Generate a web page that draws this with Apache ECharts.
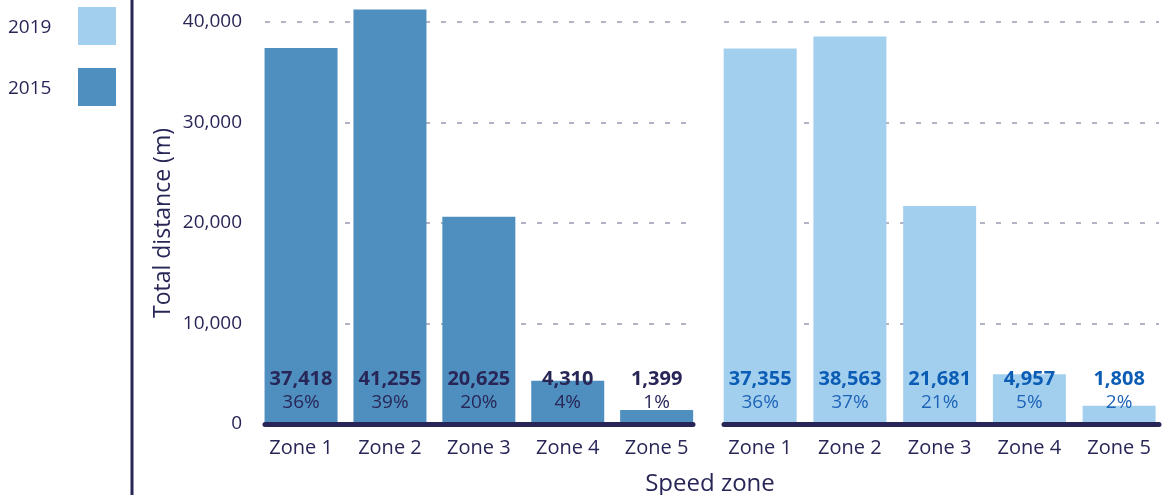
<!DOCTYPE html>
<html>
<head>
<meta charset="utf-8">
<script src="https://cdn.jsdelivr.net/npm/echarts@6/dist/echarts.min.js"></script>
<style>
  html, body { margin: 0; padding: 0; background: #fff; }
  #chart { width: 1164px; height: 495px; }
</style>
</head>
<body>
<div id="chart"></div>
<script>
  // data
  var zones = ['Zone 1', 'Zone 2', 'Zone 3', 'Zone 4', 'Zone 5'];
  var dist2015 = [37418, 41255, 20625, 4310, 1399];
  var pct2015 = ['36%', '39%', '20%', '4%', '1%'];
  var dist2019 = [37355, 38563, 21681, 4957, 1808];
  var pct2019 = ['36%', '37%', '21%', '5%', '2%'];
  var yMin = 0, yMax = 40000, yStep = 10000;

  var navy = '#282657';
  var dark = '#4f8fc0';
  var light = '#a3cfee';
  var font = 'Open Sans';

  var chart = echarts.init(document.getElementById('chart'));

  function numFmt(v) {
    return v.toLocaleString('en-US');
  }

  function barLabel(pcts, vColor, pColor) {
    return {
      show: true,
      position: 'insideBottom',
      distance: 10,
      formatter: function (p) {
        return '{v|' + numFmt(p.value) + '}\n{p|' + pcts[p.dataIndex] + '}';
      },
      rich: {
        v: { fontFamily: font, fontSize: 20, fontWeight: 'bold', color: vColor, lineHeight: 23 },
        p: { fontFamily: font, fontSize: 19, color: pColor, lineHeight: 23 }
      }
    };
  }

  var gridTop = 22, gridBottom = 71;

  // background y axis (split lines + thick base line) for each group
  function bgY(idx, showLabels) {
    return {
      gridIndex: idx,
      type: 'value',
      min: yMin, max: yMax, interval: yStep,
      axisLine: { show: false },
      axisTick: { show: false },
      axisLabel: {
        show: showLabels,
        margin: 23,
        fontFamily: font, fontSize: 19, color: navy,
        formatter: function (v) { return numFmt(v); }
      },
      splitLine: {
        show: true,
        lineStyle: { color: '#9a9ab4', type: [5, 11], width: 1.5 }
      },
      name: showLabels ? 'Total distance (m)' : '',
      nameLocation: 'middle',
      nameGap: 90,
      nameTextStyle: { fontFamily: font, fontSize: 23, color: navy }
    };
  }
  function bgX(idx) {
    return {
      gridIndex: idx,
      type: 'value',
      min: 0, max: 1,
      z: 5,
      axisLine: { show: true, onZero: true, lineStyle: { color: navy, width: 5 } },
      axisTick: { show: false },
      axisLabel: { show: false },
      splitLine: { show: false }
    };
  }
  function barX(idx) {
    return {
      gridIndex: idx,
      type: 'category',
      data: zones,
      axisLine: { show: false },
      axisTick: { show: false },
      axisLabel: { margin: 14, fontFamily: font, fontSize: 20, color: navy }
    };
  }
  function barY(idx) {
    return {
      gridIndex: idx,
      type: 'value',
      min: yMin, max: yMax, interval: yStep,
      show: false
    };
  }

  chart.setOption({
    animation: false,
    legend: {
      orient: 'vertical',
      left: 8,
      top: 7,
      padding: 0,
      align: 'right',
      itemWidth: 38,
      itemHeight: 38,
      itemGap: 23,
      icon: 'rect',
      data: ['2019', '2015'],
      formatter: '{t|{name}}',
      textStyle: {
        rich: { t: { fontFamily: font, fontSize: 19, color: navy, width: 65, align: 'left', padding: [4, 0, 0, 0] } }
      }
    },
    grid: [
      { left: 265, width: 428, top: gridTop, bottom: gridBottom },
      { left: 724, width: 435, top: gridTop, bottom: gridBottom },
      { left: 256.6, width: 444.5, top: gridTop, bottom: gridBottom },
      { left: 715.3, width: 452, top: gridTop, bottom: gridBottom }
    ],
    xAxis: [bgX(0), bgX(1), barX(2), barX(3)],
    yAxis: [bgY(0, true), bgY(1, false), barY(2), barY(3)],
    series: [
      {
        name: '2015',
        type: 'bar',
        xAxisIndex: 2, yAxisIndex: 2,
        data: dist2015,
        barWidth: 73,
        clip: false,
        itemStyle: { color: dark },
        label: barLabel(pct2015, navy, navy)
      },
      {
        name: '2019',
        type: 'bar',
        xAxisIndex: 3, yAxisIndex: 3,
        data: dist2019,
        barWidth: 73,
        clip: false,
        itemStyle: { color: light },
        label: barLabel(pct2019, '#0b5cb5', '#1d63b8')
      }
    ],
    graphic: [
      {
        type: 'rect',
        shape: { x: 130.5, y: 0, width: 3, height: 495 },
        style: { fill: navy }
      },
      {
        type: 'text',
        x: 710, y: 484,
        style: {
          text: 'Speed zone',
          font: '24px "Open Sans"',
          fill: navy,
          align: 'center',
          verticalAlign: 'middle'
        }
      }
    ]
  });
</script>
</body>
</html>
